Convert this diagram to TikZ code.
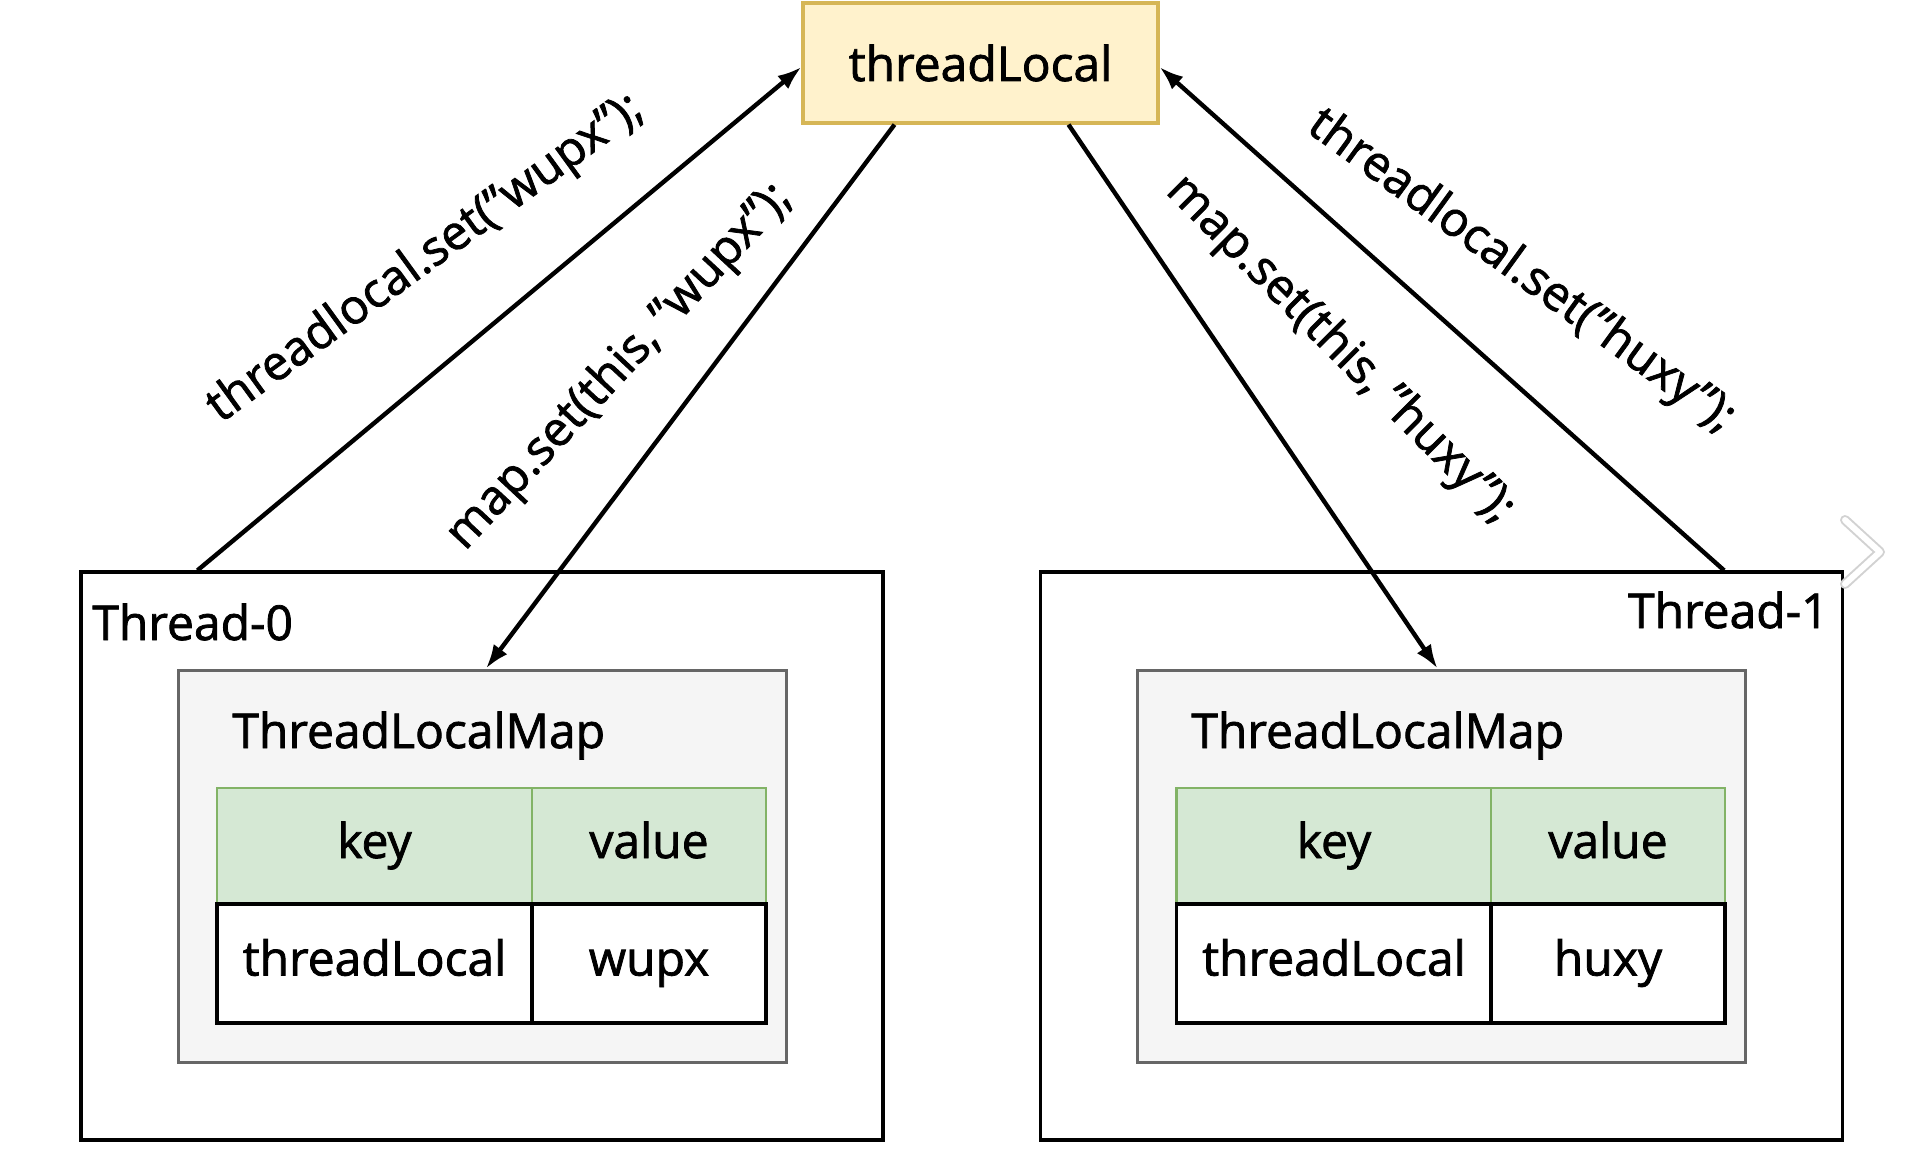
\documentclass[tikz,border=0pt]{standalone}
\usepackage{fontspec}
\setmainfont{Open Sans}[UprightFeatures={FakeBold=1.6}]
\usetikzlibrary{arrows.meta}
\definecolor{tlfill}{HTML}{FFF2CC}
\definecolor{tldraw}{HTML}{D6B656}
\definecolor{mapfill}{HTML}{F5F5F5}
\definecolor{mapdraw}{HTML}{666666}
\definecolor{hdfill}{HTML}{D5E8D4}
\definecolor{hddraw}{HTML}{82B366}
\begin{document}
\begin{tikzpicture}[x=0.5pt,y=-0.5pt,
  every node/.style={font=\fontsize{24}{28}\selectfont, inner sep=0pt},
  tlbox/.style={draw=tldraw, fill=tlfill, line width=1.6pt, minimum width=177.5pt, minimum height=60pt},
  threadbox/.style={draw=black, fill=white, line width=1.6pt, minimum width=401pt, minimum height=284pt},
  mapbox/.style={draw=mapdraw, fill=mapfill, line width=1.5pt, minimum width=304pt, minimum height=196pt},
  hdcell/.style={draw=hddraw, fill=hdfill, line width=1.2pt, minimum height=58pt, text height=17pt, text depth=5pt},
  rowcell/.style={draw=black, fill=white, line width=1.6pt, minimum height=59.5pt, text height=17pt, text depth=5pt},
  keyw/.style={minimum width=157.5pt},
  valw/.style={minimum width=117pt},
  arr/.style={line width=2.2pt, -{Latex[length=12pt,width=8.5pt]}},
]
\useasboundingbox (0,0) rectangle (1916,1150);

% threadLocal object
\node[tlbox] (tl) at (980.5,63) {threadLocal};

% threads
\node[threadbox] (t0) at (482,856) {};
\node[threadbox] (t1) at (1441.5,856) {};
\node[anchor=base west] (t0lab) at (92,640) {Thread-0};
\node[anchor=base east] (t1lab) at (1829,628) {Thread-1};

% maps
\node[mapbox] (m0) at (482,866) {};
\node[mapbox] (m1) at (1441.5,866) {};
\node[anchor=base west] (m0lab) at (232,748) {ThreadLocalMap};
\node[anchor=base west] (m1lab) at (1191,748) {ThreadLocalMap};

% left table
\node[hdcell, keyw] (k0) at (374.5,846) {key};
\node[hdcell, valw] (v0) at (649,846) {value};
\node[rowcell, keyw] (rk0) at (374.5,963.5) {threadLocal};
\node[rowcell, valw] (rv0) at (649,963.5) {wupx};

% right table
\node[hdcell, keyw] (k1) at (1334,846) {key};
\node[hdcell, valw] (v1) at (1608,846) {value};
\node[rowcell, keyw] (rk1) at (1334,963.5) {threadLocal};
\node[rowcell, valw] (rv1) at (1608,963.5) {huxy};

% connectors
\draw[arr] ([xshift=59pt]t0.north west) -- ([yshift=-2pt]tl.west);
\draw[arr] ([xshift=-43pt]tl.south) -- ([xshift=2pt]m0.north);
\draw[arr] ([xshift=44pt]tl.south) -- ([xshift=-2pt]m1.north);
\draw[arr] ([xshift=-60pt]t1.north east) -- ([yshift=-2pt]tl.east);

% connector labels
\node[rotate=36] (lab1) at (426,259) {threadlocal.set("wupx");};
\node[rotate=47] (lab2) at (620,367) {map.set(this, "wupx");};
\node[rotate=-45] (lab3) at (1340,350) {map.set(this, "huxy");};
\node[rotate=-36] (lab4) at (1521,272) {threadlocal.set("huxy");};

% chevron
\coordinate (c1) at (1845,520);
\coordinate (c2) at (1880,552);
\coordinate (c3) at (1845,584);
\draw[gray!35, line width=5pt, line cap=round, line join=round] (c1) -- (c2) -- (c3);
\draw[white, line width=3pt, line cap=round, line join=round] (c1) -- (c2) -- (c3);
\end{tikzpicture}
\end{document}
